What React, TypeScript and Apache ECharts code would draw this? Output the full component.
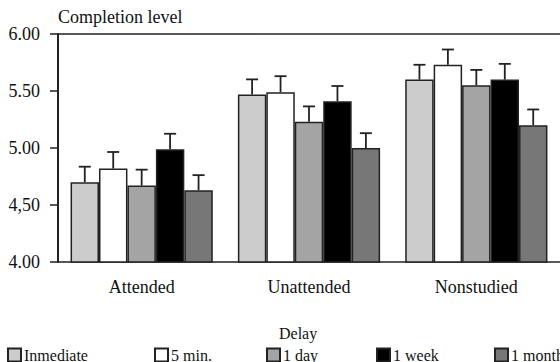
import React, { useEffect, useRef } from "react";
import * as echarts from "echarts";

const categories = ["Attended", "Unattended", "Nonstudied"];
const delays = ["Inmediate", "5 min.", "1 day", "1 week", "1 month"];
const inmediate = [4.70, 5.47, 5.60];
const fiveMin = [4.82, 5.49, 5.73];
const oneDay = [4.67, 5.23, 5.55];
const oneWeek = [4.99, 5.41, 5.60];
const oneMonth = [4.63, 5.00, 5.20];
const errInmediate = [0.136, 0.132, 0.13];
const errFiveMin = [0.145, 0.14, 0.134];
const errOneDay = [0.14, 0.135, 0.135];
const errOneWeek = [0.135, 0.134, 0.138];
const errOneMonth = [0.132, 0.13, 0.138];
const yTickValues = [4, 4.5, 5, 5.5, 6];
const yTickLabels = ["4.00", "4,50", "5.00", "5.50", "6.00"];
const yAxisTitle = "Completion level";
const legendTitle = "Delay";

const seriesValues = [inmediate, fiveMin, oneDay, oneWeek, oneMonth];
const seriesErrors = [errInmediate, errFiveMin, errOneDay, errOneWeek, errOneMonth];
const colors = ["#cccccc", "#ffffff", "#a4a4a4", "#000000", "#777777"];
const legendLefts = [7, 154, 266, 376, 494];
const FONT = "Liberation Serif";
const EDGE = "#222222";
const CATEGORY_GAP = 0.15;

export default function App() {
  const ref = useRef<HTMLDivElement>(null);
  useEffect(() => {
    document.body.style.margin = "0";
    const chart = echarts.init(ref.current!, null, { renderer: "svg" });
    const errData: number[][] = [];
    seriesValues.forEach((vals, s) => {
      vals.forEach((v, c) => errData.push([c, v, seriesErrors[s][c], s]));
    });
    const option: any = {
      animation: false,
      backgroundColor: "#ffffff",
      textStyle: { fontFamily: FONT },
      title: [
        {
          text: yAxisTitle,
          left: 58,
          top: 8,
          padding: 0,
          textStyle: { fontSize: 18, fontWeight: 400, fontFamily: FONT, color: "#111" },
        },
        {
          text: legendTitle,
          left: 279,
          top: 325,
          padding: 0,
          textStyle: { fontSize: 16, fontWeight: 400, fontFamily: FONT, color: "#111" },
        },
      ],
      grid: { left: 58, right: -2, top: 34, bottom: 100, containLabel: false },
      xAxis: [
        {
          type: "category",
          data: categories,
          axisLine: { lineStyle: { color: EDGE, width: 1.5 } },
          axisTick: { alignWithLabel: true, length: 6, lineStyle: { color: EDGE, width: 1.5 } },
          axisLabel: { fontSize: 18, color: "#111", fontFamily: FONT, margin: 16 },
        },
        {
          type: "category",
          data: categories,
          position: "top",
          axisLine: { lineStyle: { color: EDGE, width: 1.5 } },
          axisTick: { show: false },
          axisLabel: { show: false },
        },
      ],
      yAxis: {
        type: "value",
        min: 4,
        max: 6,
        interval: 0.5,
        axisLine: { show: true, lineStyle: { color: EDGE, width: 2 } },
        axisTick: { show: true, length: 8, lineStyle: { color: EDGE, width: 1.5 } },
        splitLine: { show: false },
        axisLabel: {
          fontSize: 18,
          color: "#111",
          fontFamily: FONT,
          margin: 18,
          formatter: (v: number) => {
            const i = yTickValues.findIndex((t) => Math.abs(t - v) < 1e-9);
            return i >= 0 ? yTickLabels[i] : "";
          },
        },
      },
      legend: delays.map((d, i) => ({
        data: [d],
        left: legendLefts[i],
        top: 347,
        padding: 0,
        itemWidth: 13,
        itemHeight: 13,
        icon: "rect",
        selectedMode: false,
        textStyle: { fontSize: 16, color: "#111", fontFamily: FONT, padding: [0, 0, 0, -2] },
      })),
      series: [
        ...delays.map((d, i) => ({
          type: "bar",
          name: d,
          data: seriesValues[i],
          barGap: "0%",
          barCategoryGap: `${CATEGORY_GAP * 100}%`,
          itemStyle: { color: colors[i], borderColor: EDGE, borderWidth: 1.5 },
          emphasis: { disabled: true },
        })),
        {
          type: "custom",
          name: "errors",
          data: errData,
          z: 5,
          renderItem: (params: any, api: any) => {
            const c = api.value(0);
            const v = api.value(1);
            const e = api.value(2);
            const s = api.value(3);
            const band = api.size([1, 0])[0];
            const group = band * (1 - CATEGORY_GAP);
            const bw = group / delays.length;
            const base = api.coord([c, v]);
            const top = api.coord([c, v + e]);
            const x = base[0] - group / 2 + bw * (s + 0.5);
            const style = { stroke: EDGE, lineWidth: 1.8 };
            return {
              type: "group",
              children: [
                { type: "line", shape: { x1: x, y1: base[1], x2: x, y2: top[1] }, style },
                { type: "line", shape: { x1: x - 6, y1: top[1], x2: x + 6, y2: top[1] }, style },
              ],
            };
          },
        },
      ],
    };
    chart.setOption(option);
    return () => chart.dispose();
  }, []);
  return <div ref={ref} style={{ width: 560, height: 362 }} />;
}
